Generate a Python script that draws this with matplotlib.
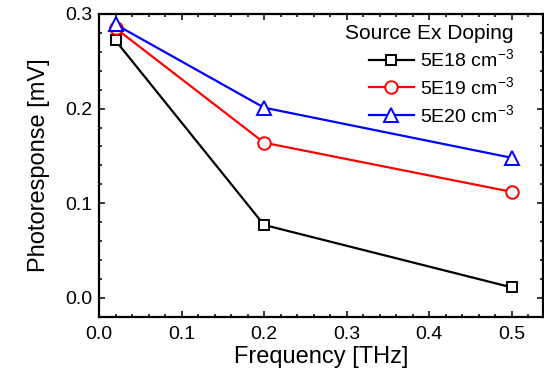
import numpy as np
import matplotlib
matplotlib.use('Agg')
import matplotlib.pyplot as plt
from matplotlib.ticker import MultipleLocator

plt.rcParams['font.family'] = ['Liberation Sans', 'DejaVu Sans']
plt.rcParams['mathtext.fontset'] = 'custom'
plt.rcParams['mathtext.rm'] = 'Liberation Sans'
plt.rcParams['mathtext.it'] = 'Liberation Sans'

# data
freq = [0.02, 0.2, 0.5]
resp_5e18 = [0.272, 0.077, 0.011]
resp_5e19 = [0.285, 0.164, 0.112]
resp_5e20 = [0.289, 0.201, 0.148]
labels = [r'5E18 cm$^{-3}$', r'5E19 cm$^{-3}$', r'5E20 cm$^{-3}$']

fig = plt.figure(figsize=(5.44, 3.75), dpi=100)
# axes box: left 99px, right 543px, top 14px, bottom 317px
ax = fig.add_axes([99/544, 1 - 316.7/375, 444/544, 302.7/375])

ax.plot(freq, resp_5e18, 'k-s', lw=1.6, ms=7.8, mfc='white', mew=1.4, label=labels[0])
ax.plot(freq, resp_5e19, 'r-o', lw=1.6, ms=9, mfc='white', mew=1.4, label=labels[1])
ax.plot(freq, resp_5e20, 'b-^', lw=1.6, ms=10.5, mfc='white', mew=1.4, label=labels[2])

ax.set_xlim(0, 0.538)
ax.set_ylim(-0.02, 0.3)
ax.xaxis.set_major_locator(MultipleLocator(0.1))
ax.xaxis.set_minor_locator(MultipleLocator(0.02))
ax.yaxis.set_major_locator(MultipleLocator(0.1))
ax.yaxis.set_minor_locator(MultipleLocator(0.02))
ax.xaxis.set_major_formatter(plt.FormatStrFormatter('%.1f'))
ax.yaxis.set_major_formatter(plt.FormatStrFormatter('%.1f'))

ax.tick_params(which='both', direction='in', top=True, right=True, width=1.1)
ax.tick_params(which='major', length=4.5, labelsize=14, pad=5)
ax.tick_params(axis='x', which='major', pad=7)
ax.tick_params(which='minor', length=2.5)
for s in ax.spines.values():
    s.set_linewidth(1.6)

ax.set_xlabel('Frequency [THz]', fontsize=17, labelpad=2)
ax.set_ylabel('Photoresponse [mV]', fontsize=17, labelpad=11)

leg = ax.legend(title='Source Ex Doping', loc='upper right', bbox_to_anchor=(0.956, 1.0),
                frameon=False, fontsize=14, title_fontsize=15, handlelength=2.3,
                handletextpad=0.3, labelspacing=0.3, borderpad=0, alignment='right')

fig.savefig('out.png', dpi=100)
